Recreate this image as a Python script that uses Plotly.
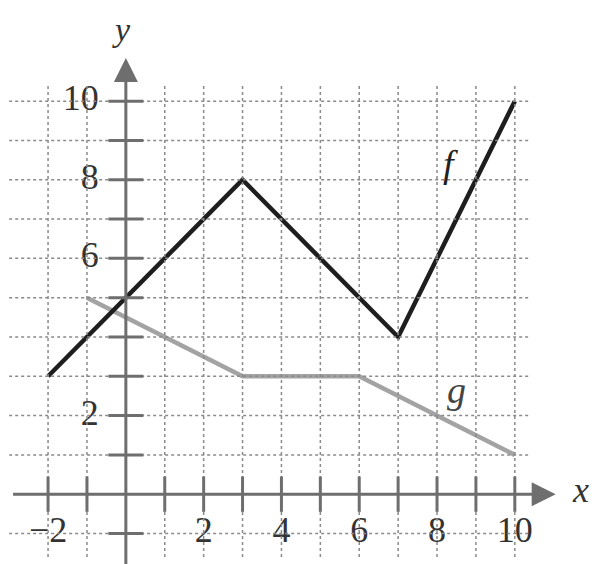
import plotly.graph_objects as go

# piecewise-linear functions
f_x = [-2, 3, 7, 10]
f_y = [3, 8, 4, 10]
g_x = [-1, 3, 6, 10]
g_y = [5, 3, 3, 1]

x_ticks = [-2, -1, 1, 2, 3, 4, 5, 6, 7, 8, 9, 10]
y_ticks = [-1, 1, 2, 3, 4, 5, 6, 7, 8, 9, 10]
x_labels = [-2, 2, 4, 6, 8, 10]
y_labels = [2, 6, 8, 10]

GRID = "#8a8a8a"
AXIS = "#6e6e6e"
SERIF = "Liberation Serif"

fig = go.Figure()

shapes = []
# dotted grid
for xv in x_ticks:
    shapes.append(dict(type="line", x0=xv, x1=xv, y0=-1.6, y1=10.4,
                       line=dict(color=GRID, width=1.5, dash="dot")))
for yv in y_ticks:
    shapes.append(dict(type="line", x0=-3.0, x1=10.35, y0=yv, y1=yv,
                       line=dict(color=GRID, width=1.5, dash="dot")))
# axes
shapes.append(dict(type="line", x0=-2.9, x1=10.8, y0=0, y1=0,
                   line=dict(color=AXIS, width=3)))
shapes.append(dict(type="line", x0=0, x1=0, y0=-1.8, y1=10.8,
                   line=dict(color=AXIS, width=3)))
# tick marks
for xv in x_ticks:
    shapes.append(dict(type="line", x0=xv, x1=xv, y0=-0.45, y1=0.45,
                       line=dict(color=AXIS, width=3)))
for yv in y_ticks:
    shapes.append(dict(type="line", x0=-0.45, x1=0.45, y0=yv, y1=yv,
                       line=dict(color=AXIS, width=3)))

fig.add_trace(go.Scatter(x=g_x, y=g_y, mode="lines",
                         line=dict(color="#a3a3a3", width=4.5)))
fig.add_trace(go.Scatter(x=f_x, y=f_y, mode="lines",
                         line=dict(color="#1e1e1e", width=4.5)))

# tick labels
fig.add_trace(go.Scatter(x=x_labels, y=[-1.0] * len(x_labels), mode="text",
                         text=["\u2212" + str(-v) if v < 0 else str(v) for v in x_labels],
                         textposition="middle center",
                         textfont=dict(family=SERIF, size=36, color="#333333")))
fig.add_trace(go.Scatter(x=[-0.7] * len(y_labels), y=y_labels, mode="text",
                         text=[str(v) for v in y_labels],
                         textposition="middle left",
                         textfont=dict(family=SERIF, size=36, color="#333333")))

annotations = [
    dict(x=11.05, y=0, ax=10.5, ay=0, xref="x", yref="y", axref="x", ayref="y",
         showarrow=True, arrowhead=2, arrowsize=1.6, arrowwidth=3, arrowcolor=AXIS, text=""),
    dict(x=0, y=11.1, ax=0, ay=10.6, xref="x", yref="y", axref="x", ayref="y",
         showarrow=True, arrowhead=2, arrowsize=1.6, arrowwidth=3, arrowcolor=AXIS, text=""),
    dict(x=11.7, y=0.1, text="<i>x</i>", showarrow=False,
         font=dict(family=SERIF, size=36, color="#333333")),
    dict(x=-0.1, y=11.82, text="<i>y</i>", showarrow=False,
         font=dict(family=SERIF, size=34, color="#333333")),
    dict(x=8.35, y=8.4, text="<i>f</i>", showarrow=False,
         font=dict(family=SERIF, size=38, color="#222222")),
    dict(x=8.5, y=2.65, text="<i>g</i>", showarrow=False,
         font=dict(family=SERIF, size=38, color="#444444")),
]

# page body adds an 8px offset, so ranges are shifted to compensate
fig.update_layout(
    width=606, height=564,
    margin=dict(l=0, r=0, t=0, b=0),
    paper_bgcolor="white", plot_bgcolor="white",
    showlegend=False,
    shapes=shapes,
    annotations=annotations,
    xaxis=dict(range=[-3.03, 12.55], visible=False, fixedrange=True),
    yaxis=dict(range=[-1.98, 12.37], visible=False, fixedrange=True),
)

fig.write_html("out.html")
